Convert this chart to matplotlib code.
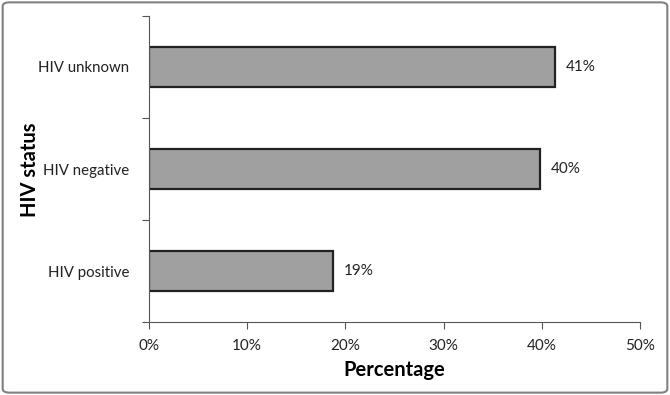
import matplotlib.pyplot as plt
from matplotlib.patches import FancyBboxPatch
from matplotlib.ticker import MultipleLocator, NullFormatter, FixedLocator

categories = ['HIV positive', 'HIV negative', 'HIV unknown']
values = [18.7, 39.8, 41.3]
labels = ['19%', '40%', '41%']

plt.rcParams['font.family'] = ['Lato', 'DejaVu Sans']

fig = plt.figure(figsize=(6.7, 3.95), dpi=100)
ax = fig.add_axes([0.2224, 0.1848, 0.7328, 0.7747])

y = range(len(categories))
ax.barh(y, values, height=0.4, color='#a0a0a0', edgecolor='#222222', linewidth=1.6)
for yi, v, lab in zip(y, values, labels):
    ax.text(v + 1.1, yi, lab, va='center', ha='left', fontsize=11, color='#222222')

ax.set_xlim(0, 50)
ax.set_ylim(-0.5, 2.5)
ax.xaxis.set_major_locator(MultipleLocator(10))
ax.set_xticklabels([f'{int(t)}%' for t in ax.get_xticks()])
ax.set_yticks(list(y))
ax.set_yticklabels(categories)
ax.tick_params(axis='y', length=0, labelsize=10.8, pad=14, labelcolor='#222222')
ax.yaxis.set_minor_locator(FixedLocator([-0.5, 0.5, 1.5, 2.5]))
ax.yaxis.set_minor_formatter(NullFormatter())
ax.tick_params(axis='y', which='minor', length=5, width=0.8, color='#555555')
ax.tick_params(axis='x', length=5, width=0.8, color='#555555', labelsize=11, pad=7, labelcolor='#222222')

for s in ['top', 'right']:
    ax.spines[s].set_visible(False)
for s in ['left', 'bottom']:
    ax.spines[s].set_color('#555555')
    ax.spines[s].set_linewidth(0.8)

ax.set_xlabel('Percentage', fontsize=14.5, fontweight='bold', labelpad=5)
fig.text(0.045, 0.57, 'HIV status', rotation=90, fontsize=14.5, fontweight='bold', ha='center', va='center')

border = FancyBboxPatch((0.004, 0.006), 0.992, 0.988, boxstyle='round,pad=0,rounding_size=0.01',
                        transform=fig.transFigure, facecolor='none', edgecolor='#808080', linewidth=1.5)
fig.patches.append(border)

fig.savefig('out.png', dpi=100)
